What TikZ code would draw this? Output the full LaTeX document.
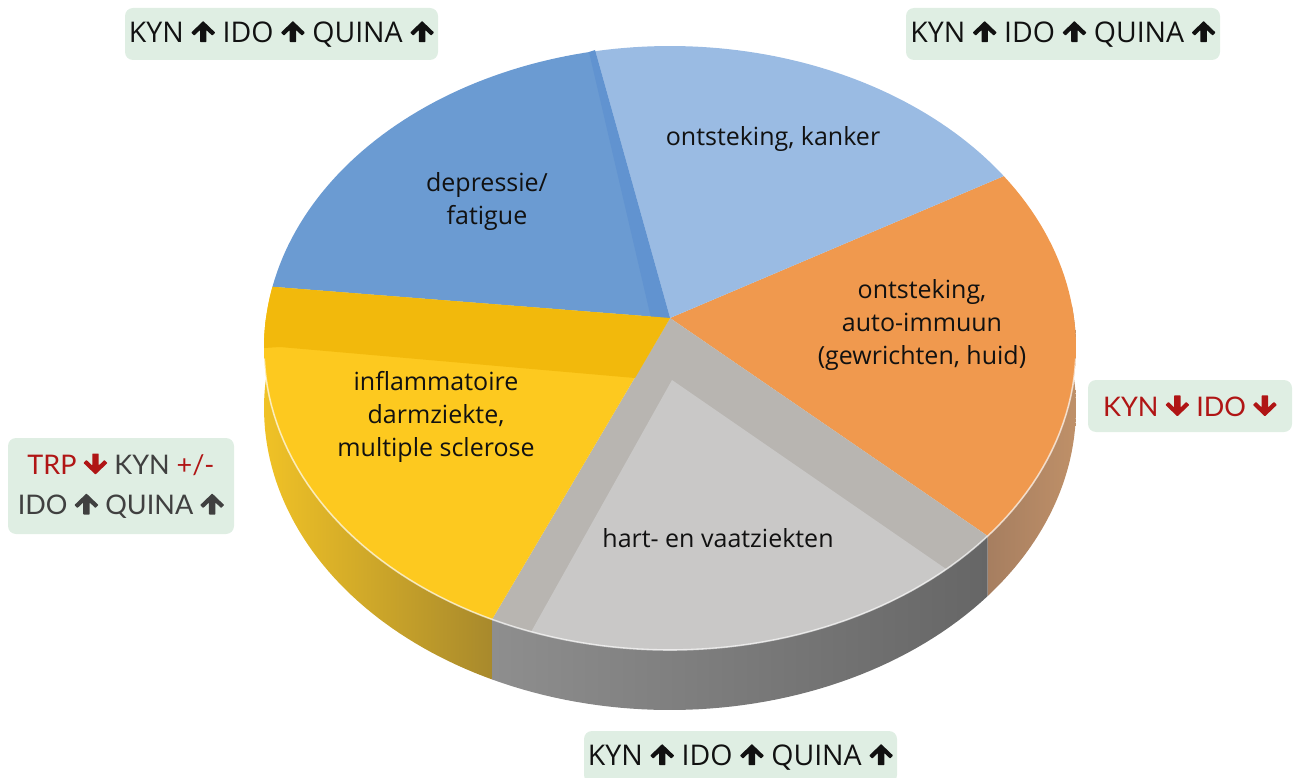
\documentclass[tikz,border=0pt]{standalone}
\usepackage{fontspec}
\setmainfont{Open Sans}
\newfontfamily\latof{Lato}
\definecolor{lblue}{HTML}{9ABBE3}
\definecolor{dblue}{HTML}{6B9BD2}
\definecolor{dbluestrip}{HTML}{6193D0}
\definecolor{orng}{HTML}{F0994E}
\definecolor{graywall}{HTML}{B8B5B1}
\definecolor{grayfloor}{HTML}{C9C8C7}
\definecolor{yelband}{HTML}{F2B90C}
\definecolor{yelmain}{HTML}{FDC91F}
\definecolor{boxg}{HTML}{DFEEE3}
\definecolor{redt}{HTML}{B01515}
\definecolor{grayt}{HTML}{404040}
\definecolor{blackt}{HTML}{111111}
\definecolor{orsideA}{HTML}{A67E60}
\definecolor{orsideB}{HTML}{BF9068}
\definecolor{grsideA}{HTML}{8E8E8E}
\definecolor{grsideB}{HTML}{666666}
\definecolor{yesideA}{HTML}{F0C226}
\definecolor{yesideB}{HTML}{A8892C}
\newcommand\rimpiece[3]{\path[#3] plot[domain=#1:#2,samples=50,variable=\t] ({670+406*cos(\t)},{348+302*sin(\t)}) -- plot[domain=#2:#1,samples=50,variable=\t] ({670+406*cos(\t)},{408+302*sin(\t)}) -- cycle;}
\newcommand\topslice[3]{\path[fill=#3] (670,318) -- plot[domain=#1:#2,samples=50,variable=\t] ({670+406*cos(\t)},{348+302*sin(\t)}) -- cycle;}
\newcommand\pp[2]{\pgfpoint{#1pt}{#2pt}}
\newcommand\arrowupglyph[1]{\begin{pgfpicture}\pgfsetfillcolor{#1}\pgfsetcornersarced{\pgfpoint{0.6pt}{0.6pt}}%
\pgfpathmoveto{\pp{0}{21}}\pgfpathlineto{\pp{12}{9.5}}\pgfpathlineto{\pp{9}{6.5}}\pgfpathlineto{\pp{3.2}{12}}\pgfpathlineto{\pp{3.2}{0}}%
\pgfpathlineto{\pp{-3.2}{0}}\pgfpathlineto{\pp{-3.2}{12}}\pgfpathlineto{\pp{-9}{6.5}}\pgfpathlineto{\pp{-12}{9.5}}\pgfpathclose\pgfusepath{fill}\end{pgfpicture}}
\newcommand\arrowdownglyph[1]{\begin{pgfpicture}\pgfsetfillcolor{#1}\pgfsetcornersarced{\pgfpoint{0.6pt}{0.6pt}}%
\pgfpathmoveto{\pp{0}{0}}\pgfpathlineto{\pp{12}{11.5}}\pgfpathlineto{\pp{9}{14.5}}\pgfpathlineto{\pp{3.2}{9}}\pgfpathlineto{\pp{3.2}{21}}%
\pgfpathlineto{\pp{-3.2}{21}}\pgfpathlineto{\pp{-3.2}{9}}\pgfpathlineto{\pp{-9}{14.5}}\pgfpathlineto{\pp{-12}{11.5}}\pgfpathclose\pgfusepath{fill}\end{pgfpicture}}
\begin{document}
\newsavebox\upbk
\newsavebox\upgr
\newsavebox\dnrd
\sbox\upbk{\arrowupglyph{blackt}}
\sbox\upgr{\arrowupglyph{grayt}}
\sbox\dnrd{\arrowdownglyph{redt}}
\begin{tikzpicture}[x=1pt,y=-1pt,
  lbl/.style={fill=boxg, rounded corners=8pt, inner sep=0pt, align=center},
  pietext/.style={align=center, text=blackt, font=\fontsize{25}{33}\selectfont},
  boxtext/.style={text=blackt, font=\fontsize{28.5}{33}\selectfont}]
\useasboundingbox (0,0) rectangle (1293,778);
\clip (0,0) rectangle (1293,778);
% rim (side)
\rimpiece{-8}{38.5}{left color=orsideA, right color=orsideB}
\rimpiece{38.5}{116}{left color=grsideA, right color=grsideB}
\rimpiece{116}{186}{left color=yesideA, right color=yesideB}
% top face
\topslice{-34.7}{38.5}{orng}
\topslice{38.5}{116}{graywall}
\topslice{116}{191.7}{yelmain}
\topslice{191.7}{259.4}{dblue}
\topslice{259.4}{325.3}{lblue}
% details
\path[fill=dbluestrip] (589,52) -- (651,318) -- (670,318) -- (595,50) -- cycle;
\path[fill=yelband] plot[domain=180:191.7,samples=20,variable=\t] ({670+406*cos(\t)},{348+302*sin(\t)}) -- (670,318) -- (635,378) -- (280,347) -- cycle;
\path[fill=grayfloor] (672,380) -- plot[domain=47.1:110,samples=50,variable=\t] ({670+406*cos(\t)},{348+302*sin(\t)}) -- cycle;
% rim highlight
\draw[white, opacity=0.65, line width=1.6pt] plot[domain=2:178,samples=100,variable=\t] ({670+406*cos(\t)},{348+302*sin(\t)});
% pie labels
\node[pietext] (dep) at (487,202) {depressie/\\fatigue};
\node[pietext] (ok) at (773,139) {ontsteking, kanker};
\node[pietext] (oa) at (922,325) {ontsteking,\\auto-immuun\\(gewrichten, huid)};
\node[pietext] (inf) at (436,417) {inflammatoire\\darmziekte,\\multiple sclerose};
\node[pietext] (hart) at (718,538) {hart- en vaatziekten};
% boxes
\node[lbl, boxtext, minimum width=313pt, minimum height=52pt] (b1) at (281.5,34) {KYN~\usebox\upbk~IDO~\usebox\upbk~QUINA~\usebox\upbk};
\node[lbl, boxtext, minimum width=314pt, minimum height=52pt] (b2) at (1063,34) {KYN~\usebox\upbk~IDO~\usebox\upbk~QUINA~\usebox\upbk};
\node[lbl, minimum width=204pt, minimum height=52pt, text=redt, font=\latof\fontsize{27}{33}\selectfont] (b3) at (1190,406) {KYN~\usebox\dnrd~IDO~\usebox\dnrd};
\node[lbl, minimum width=226pt, minimum height=96pt, text=grayt, font=\latof\fontsize{27}{40}\selectfont] (b4) at (121,486) {\textcolor{redt}{TRP}~\usebox\dnrd~KYN~\textcolor{redt}{+/-}\\IDO~\usebox\upgr~QUINA~\usebox\upgr};
\node[lbl, boxtext, minimum width=313pt, minimum height=52pt] (b5) at (740.5,757) {KYN~\usebox\upbk~IDO~\usebox\upbk~QUINA~\usebox\upbk};
\end{tikzpicture}
\end{document}
